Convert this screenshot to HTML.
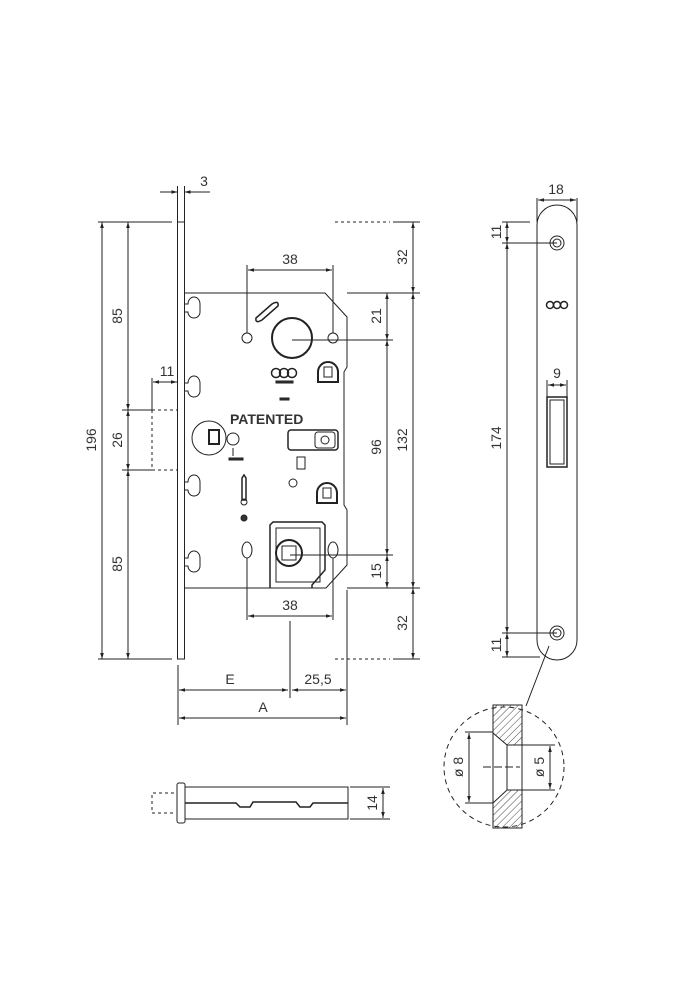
<!DOCTYPE html><html><head><style>body{margin:0;background:#fff}svg{display:block}text{font-family:"Liberation Sans",sans-serif;fill:#333;font-size:14px}</style></head><body>
<svg width="700" height="1000" viewBox="0 0 700 1000" xmlns="http://www.w3.org/2000/svg">
<defs>
<marker id="a" viewBox="0 0 10 10" refX="10" refY="5" markerWidth="6" markerHeight="6" orient="auto-start-reverse"><path d="M0,2L10,5L0,8z" fill="#222"/></marker>
<pattern id="h" width="5" height="5" patternUnits="userSpaceOnUse" patternTransform="rotate(45)"><line x1="0" y1="0" x2="0" y2="5" stroke="#444" stroke-width="1"/></pattern>
</defs>
<g stroke="#222" fill="none" stroke-width="1">
<rect x="177.5" y="222" width="7" height="437"/>
<path d="M185,293 H325 L347,317 V367 L344,372 V505 L347,510 V565 L326,588 H185"/>
<circle cx="247" cy="338" r="5"/><circle cx="333" cy="338" r="5"/>
<circle cx="292" cy="338" r="20" stroke-width="2"/>
<path d="M256,318 L272,304 Q279,300 278,306 L262,320 Q255,324 256,318z" stroke-width="1.5"/>
<path d="M185,304 h3 a6,7 0 0 1 12,0 v8 a6,6 0 0 1 -12,0 h-3" /><path d="M185,383 h3 a6,7 0 0 1 12,0 v8 a6,6 0 0 1 -12,0 h-3"/>
<path d="M185,482 h3 a6,7 0 0 1 12,0 v8 a6,6 0 0 1 -12,0 h-3"/><path d="M185,558 h3 a6,7 0 0 1 12,0 v8 a6,6 0 0 1 -12,0 h-3"/>
<path d="M318,382 v-10 a10,10 0 0 1 20,0 v10z" stroke-width="2"/><rect x="324" y="367" width="8" height="10"/>
<path d="M317,503 v-10 a10,10 0 0 1 20,0 v10z" stroke-width="2"/><rect x="323" y="488" width="8" height="10"/>
<circle cx="276" cy="373" r="4.5" stroke-width="1.5"/><circle cx="284" cy="373" r="4.5" stroke-width="1.5"/><circle cx="292" cy="373" r="4.5" stroke-width="1.5"/>
<rect x="276" y="381" width="17" height="2" fill="#333"/><rect x="280" y="398" width="9" height="2" fill="#333"/>
<circle cx="209" cy="438" r="17"/><rect x="209" y="430" width="10" height="14" stroke-width="2"/>
<circle cx="233" cy="439" r="6"/><line x1="233" y1="448" x2="233" y2="456"/><rect x="229" y="458" width="14" height="2" fill="#333"/>
<rect x="288" y="430" width="50" height="20" rx="3" stroke-width="1.5"/><rect x="315" y="432" width="20" height="16" rx="3"/><circle cx="325" cy="440" r="4"/>
<rect x="297" y="457" width="8" height="12"/><circle cx="293" cy="483" r="4"/>
<path d="M242,478 l2,-3 l2,3 v22 h-4z" stroke-width="1.5"/><circle cx="244" cy="502" r="3"/><circle cx="244" cy="518" r="3" fill="#333"/>
<ellipse cx="247" cy="550" rx="5" ry="8"/><ellipse cx="333" cy="550" rx="5" ry="8"/>
<path d="M270,588 V525 l3,-3 H322 l3,3 V570 l-13,15 V588" stroke-width="1.5"/>
<rect x="276" y="528" width="44" height="54" fill="none"/>
<circle cx="289" cy="553" r="13" stroke-width="2"/><rect x="282" y="546" width="14" height="14"/>
<line x1="98" y1="222" x2="172" y2="222"/><line x1="98" y1="659" x2="172" y2="659"/>
<line x1="102" y1="222" x2="102" y2="659" marker-start="url(#a)" marker-end="url(#a)"/>
<line x1="128" y1="222" x2="128" y2="410" marker-start="url(#a)" marker-end="url(#a)"/>
<line x1="128" y1="410" x2="128" y2="470" marker-start="url(#a)" marker-end="url(#a)"/>
<line x1="128" y1="470" x2="128" y2="659" marker-start="url(#a)" marker-end="url(#a)"/>
<line x1="122" y1="410" x2="152" y2="410"/><line x1="122" y1="470" x2="152" y2="470"/>
<path d="M152,410 H178 M152,470 H178 M152,410 V470" stroke-dasharray="3,3"/>
<line x1="152" y1="378" x2="152" y2="410"/>
<line x1="153" y1="382" x2="177" y2="382" marker-start="url(#a)" marker-end="url(#a)"/>
<line x1="177.5" y1="186" x2="177.5" y2="222"/><line x1="184.5" y1="186" x2="184.5" y2="222"/>
<line x1="160" y1="192" x2="177.5" y2="192" marker-end="url(#a)"/><line x1="210" y1="192" x2="184.5" y2="192" marker-end="url(#a)"/>
<line x1="247" y1="265" x2="247" y2="333"/><line x1="333" y1="265" x2="333" y2="333"/>
<line x1="248" y1="270" x2="332" y2="270" marker-start="url(#a)" marker-end="url(#a)"/>
<path d="M335,222 H390" stroke-dasharray="3,3"/><line x1="393" y1="222" x2="420" y2="222"/>
<line x1="347" y1="293" x2="420" y2="293"/><line x1="292" y1="340" x2="393" y2="340"/>
<line x1="290" y1="555" x2="393" y2="555"/><line x1="347" y1="588" x2="420" y2="588"/>
<path d="M335,659 H390" stroke-dasharray="3,3"/><line x1="393" y1="659" x2="420" y2="659"/>
<line x1="413" y1="222" x2="413" y2="293" marker-start="url(#a)" marker-end="url(#a)"/>
<line x1="413" y1="293" x2="413" y2="588" marker-start="url(#a)" marker-end="url(#a)"/>
<line x1="413" y1="588" x2="413" y2="659" marker-start="url(#a)" marker-end="url(#a)"/>
<line x1="387" y1="293" x2="387" y2="340" marker-start="url(#a)" marker-end="url(#a)"/>
<line x1="387" y1="340" x2="387" y2="555" marker-start="url(#a)" marker-end="url(#a)"/>
<line x1="387" y1="555" x2="387" y2="588" marker-start="url(#a)" marker-end="url(#a)"/>
<line x1="247" y1="558" x2="247" y2="620"/><line x1="333" y1="558" x2="333" y2="620"/>
<line x1="248" y1="616" x2="332" y2="616" marker-start="url(#a)" marker-end="url(#a)"/>
<line x1="290" y1="621" x2="290" y2="698"/>
<line x1="178" y1="665" x2="178" y2="725"/><line x1="347" y1="590" x2="347" y2="725"/>
<line x1="179" y1="690" x2="288" y2="690" marker-start="url(#a)" marker-end="url(#a)"/>
<line x1="292" y1="690" x2="346" y2="690" marker-start="url(#a)" marker-end="url(#a)"/>
<line x1="179" y1="718" x2="346" y2="718" marker-start="url(#a)" marker-end="url(#a)"/>
<rect x="177" y="783" width="8" height="40" rx="2"/>
<rect x="185" y="787" width="163" height="32"/>
<path d="M185,803 H236 l4,4 h10 l3,-5 h43 l4,5 h10 l3,-4 H348" stroke-width="1.5"/>
<path d="M174,793 H152 V813 H174" stroke-dasharray="3,3"/>
<line x1="350" y1="787" x2="390" y2="787"/><line x1="350" y1="819" x2="390" y2="819"/>
<line x1="383" y1="788" x2="383" y2="818" marker-start="url(#a)" marker-end="url(#a)"/>
<rect x="537" y="205" width="40" height="455" rx="20"/>
<circle cx="557" cy="243" r="7"/><circle cx="557" cy="243" r="4"/>
<circle cx="557" cy="633" r="7"/><circle cx="557" cy="633" r="4"/>
<circle cx="550" cy="305" r="3.5" stroke-width="1.5"/><circle cx="557" cy="305" r="3.5" stroke-width="1.5"/><circle cx="564" cy="305" r="3.5" stroke-width="1.5"/>
<rect x="547" y="397" width="20" height="70" stroke-width="1.5"/><rect x="550" y="400" width="14" height="64"/>
<line x1="547" y1="380" x2="547" y2="397"/><line x1="567" y1="380" x2="567" y2="397"/>
<line x1="548" y1="385" x2="566" y2="385" marker-start="url(#a)" marker-end="url(#a)"/>
<line x1="537" y1="198" x2="537" y2="222"/><line x1="577" y1="198" x2="577" y2="222"/>
<line x1="538" y1="200" x2="576" y2="200" marker-start="url(#a)" marker-end="url(#a)"/>
<line x1="502" y1="222" x2="530" y2="222"/><line x1="502" y1="243" x2="557" y2="243"/>
<line x1="502" y1="633" x2="557" y2="633"/><line x1="502" y1="657" x2="540" y2="657"/>
<line x1="507" y1="222" x2="507" y2="243" marker-start="url(#a)" marker-end="url(#a)"/>
<line x1="507" y1="243" x2="507" y2="633" marker-start="url(#a)" marker-end="url(#a)"/>
<line x1="507" y1="633" x2="507" y2="657" marker-start="url(#a)" marker-end="url(#a)"/>
<line x1="549" y1="646" x2="526" y2="706"/>
<ellipse cx="504" cy="767" rx="60" ry="60" stroke-dasharray="5,4"/>
<path d="M493,705 H522 V745 H507 L493,733z" fill="url(#h)"/>
<path d="M493,803 L507,790 H522 V828 H493z" fill="url(#h)"/>
<line x1="493" y1="705" x2="493" y2="828"/><line x1="522" y1="705" x2="522" y2="828"/>
<line x1="507" y1="745" x2="507" y2="790"/>
<line x1="483" y1="767" x2="520" y2="767" stroke-dasharray="8,3"/>
<line x1="465" y1="732" x2="493" y2="732"/><line x1="465" y1="803" x2="493" y2="803"/>
<line x1="469" y1="733" x2="469" y2="802" marker-start="url(#a)" marker-end="url(#a)"/>
<line x1="522" y1="745" x2="555" y2="745"/><line x1="522" y1="790" x2="555" y2="790"/>
<line x1="550" y1="746" x2="550" y2="789" marker-start="url(#a)" marker-end="url(#a)"/>
</g>
<g>
<text x="204" y="186" text-anchor="middle">3</text>
<text x="290" y="264" text-anchor="middle">38</text>
<text x="290" y="610" text-anchor="middle">38</text>
<text x="167" y="376" text-anchor="middle">11</text>
<text x="230" y="684" text-anchor="middle">E</text>
<text x="318" y="684" text-anchor="middle">25,5</text>
<text x="263" y="712" text-anchor="middle">A</text>
<text x="556" y="194" text-anchor="middle">18</text>
<text x="557" y="378" text-anchor="middle">9</text>
<text x="230" y="424" font-size="9" font-weight="bold">PATENTED</text>
<text transform="translate(96,440) rotate(-90)" text-anchor="middle">196</text>
<text transform="translate(122,316) rotate(-90)" text-anchor="middle">85</text>
<text transform="translate(122,440) rotate(-90)" text-anchor="middle">26</text>
<text transform="translate(122,564) rotate(-90)" text-anchor="middle">85</text>
<text transform="translate(407,257) rotate(-90)" text-anchor="middle">32</text>
<text transform="translate(381,316) rotate(-90)" text-anchor="middle">21</text>
<text transform="translate(381,447) rotate(-90)" text-anchor="middle">96</text>
<text transform="translate(407,440) rotate(-90)" text-anchor="middle">132</text>
<text transform="translate(381,571) rotate(-90)" text-anchor="middle">15</text>
<text transform="translate(407,623) rotate(-90)" text-anchor="middle">32</text>
<text transform="translate(377,803) rotate(-90)" text-anchor="middle">14</text>
<text transform="translate(501,232) rotate(-90)" text-anchor="middle">11</text>
<text transform="translate(501,438) rotate(-90)" text-anchor="middle">174</text>
<text transform="translate(501,645) rotate(-90)" text-anchor="middle">11</text>
<text transform="translate(463,767) rotate(-90)" text-anchor="middle">ø 8</text>
<text transform="translate(544,767) rotate(-90)" text-anchor="middle">ø 5</text>
</g>
</svg></body></html>
